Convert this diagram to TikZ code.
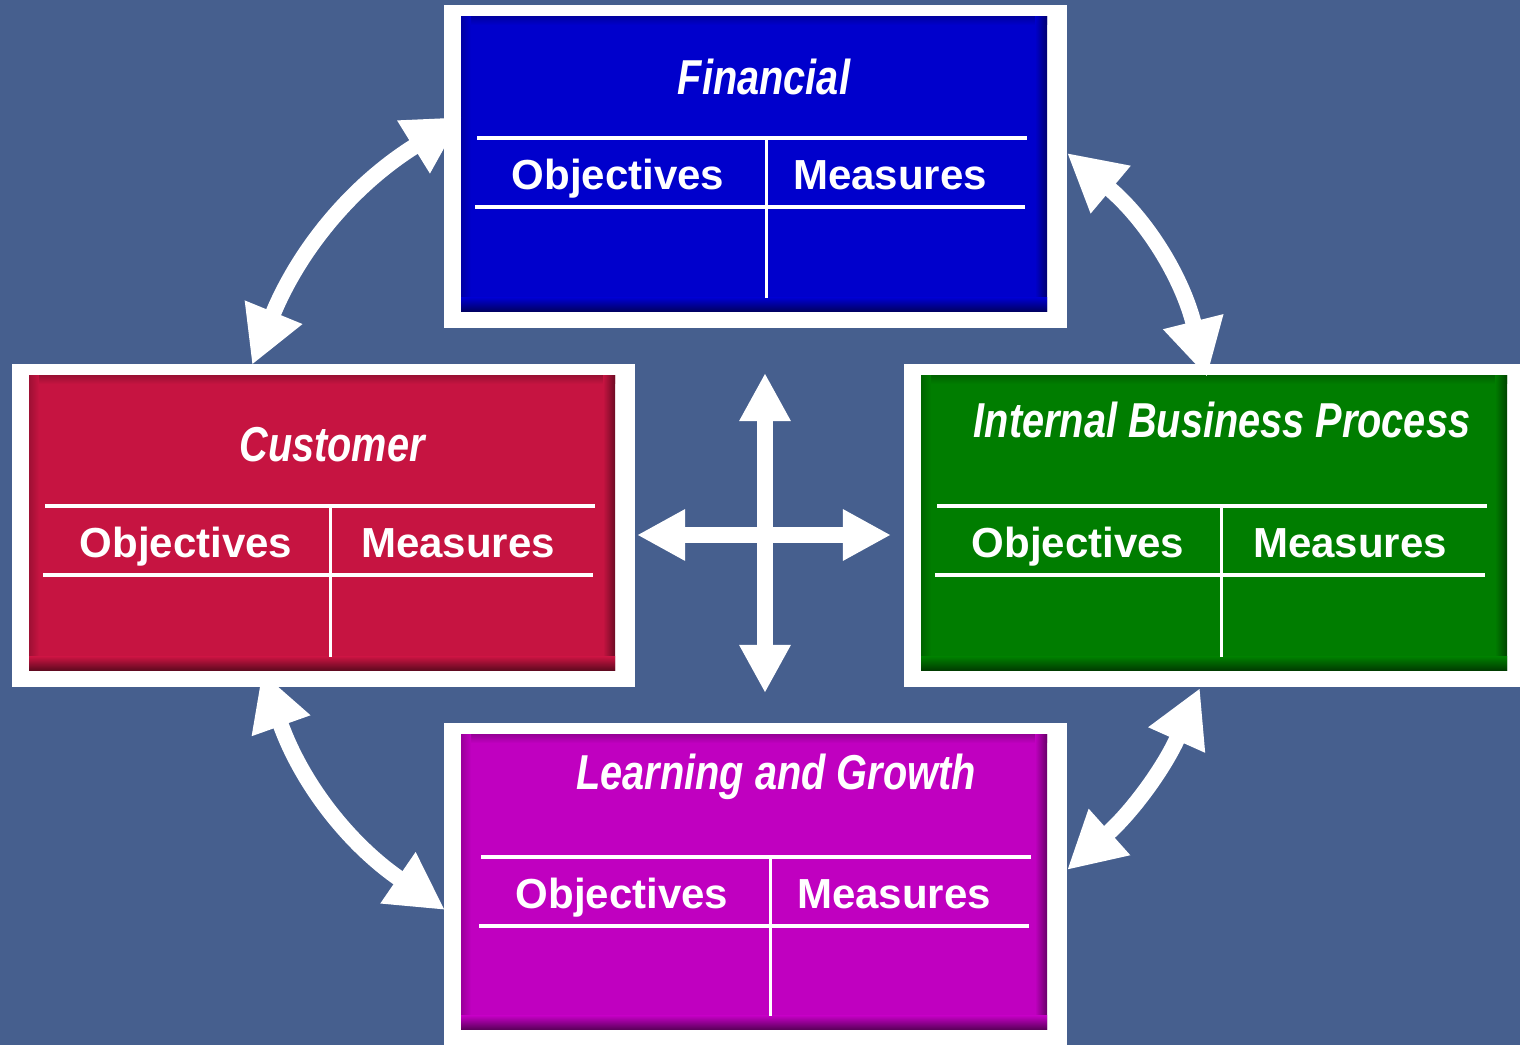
\documentclass[tikz,border=0pt]{standalone}
\usepackage{fontspec}
\setmainfont{Liberation Sans}
\newfontfamily\titlefont[FakeStretch=0.81]{Liberation Sans}
\usetikzlibrary{arrows.meta}

\definecolor{bgblue}{HTML}{465F8E}
\definecolor{finblue}{HTML}{0000CC}
\definecolor{cusred}{HTML}{C61441}
\definecolor{ibpgreen}{HTML}{007D00}
\definecolor{lrnpurple}{HTML}{C000C0}

\tikzset{
  panelbox/.style={anchor=north west, minimum width=5.86cm, minimum height=2.95cm,
    inner sep=0pt, outer sep=0pt},
  titletext/.style={white, anchor=base, inner sep=0pt,
    font=\titlefont\bfseries\itshape\fontsize{13.94}{16}\selectfont},
  headtext/.style={white, anchor=base, inner sep=0pt,
    font=\bfseries\fontsize{11.95}{14}\selectfont},
  rule/.style={white, line width=0.04cm},
  divline/.style={white, line width=0.03cm},
  bigarrow/.style={white, line width=0.16cm,
    {Triangle[length=0.57cm,width=0.58cm]}-{Triangle[length=0.57cm,width=0.58cm]}},
  crossarrow/.style={white, line width=0.165cm,
    {Triangle[length=0.48cm,width=0.48cm]}-{Triangle[length=0.48cm,width=0.48cm]}}
}

\begin{document}
\begin{tikzpicture}[x=0.01cm,y=0.01cm]
  % Background
  \useasboundingbox (0,0) rectangle (1520,1045);
  \clip (0,0) rectangle (1520,1045);
  \fill[bgblue] (0,0) rectangle (1520,1045);

  % The four perspectives
  \foreach \id/\col/\x/\y/\L/\dx/\dv/\tx/\tb/\title in {
      fin/finblue/461/1028/121/0/305/303/78/Financial,
      cus/cusred/29/669/130/0/301/303/86/Customer,
      ibp/ibpgreen/921/669/130/0/300/301/62/Internal Business Process,
      lrn/lrnpurple/461/310/122/4/309/315/55/Learning and Growth} {
    % white frame
    \fill[white] (\x-17,\y+12) rectangle (\x+606,\y-311);
    % coloured panel with darker rims
    \node[panelbox, fill=\col] (\id) at (\x,\y) {};
    \shade[top color=\col!80!black, bottom color=\col] (\x,\y) rectangle (\x+586,\y-8);
    \shade[left color=\col!80!black, right color=\col] (\x,\y) rectangle (\x+10,\y-295);
    \shade[left color=\col, right color=\col!55!black] (\x+574,\y) rectangle (\x+586,\y-295);
    \shade[top color=\col, bottom color=\col!45!black] (\x,\y-281) rectangle (\x+586,\y-295);
    % title and column heads
    \node[titletext] (\id-title) at (\x+\tx,\y-\tb) {\title};
    \node[headtext] (\id-obj) at (\x+\dx+157,\y-\L-52) {Objectives};
    \node[headtext] (\id-mea) at (\x+\dx+429,\y-\L-52) {Measures};
    % table lines
    \draw[rule] (\x+\dx+16,\y-\L) -- (\x+\dx+566,\y-\L);
    \draw[rule] (\x+\dx+14,\y-\L-69) -- (\x+\dx+564,\y-\L-69);
    \draw[divline] (\x+\dv,\y-\L-1) -- (\x+\dv,\y-281);
  }

  % Arrow ends on the panels
  \coordinate (fin-w) at (462,928);
  \coordinate (fin-e) at (1067,892);
  \coordinate (cus-n) at (252,680);
  \coordinate (cus-s) at (262,373);
  \coordinate (ibp-n) at (1207,668);
  \coordinate (ibp-s) at (1200,357);
  \coordinate (lrn-w) at (445,135);
  \coordinate (lrn-e) at (1067,175);

  % Curved arrows between perspectives
  \draw[bigarrow] (cus-n) to[bend left=18] (fin-w);
  \draw[bigarrow] (fin-e) to[bend left=18] (ibp-n);
  \draw[bigarrow] (ibp-s) to[bend left=12] (lrn-e);
  \draw[bigarrow] (lrn-w) to[bend left=18] (cus-s);

  % Cross in the middle
  \coordinate (cross-n) at (765,672);
  \coordinate (cross-s) at (765,352);
  \coordinate (cross-w) at (637,510);
  \coordinate (cross-e) at (891,510);
  \draw[crossarrow] (cross-s) -- (cross-n);
  \draw[crossarrow] (cross-w) -- (cross-e);
\end{tikzpicture}
\end{document}
